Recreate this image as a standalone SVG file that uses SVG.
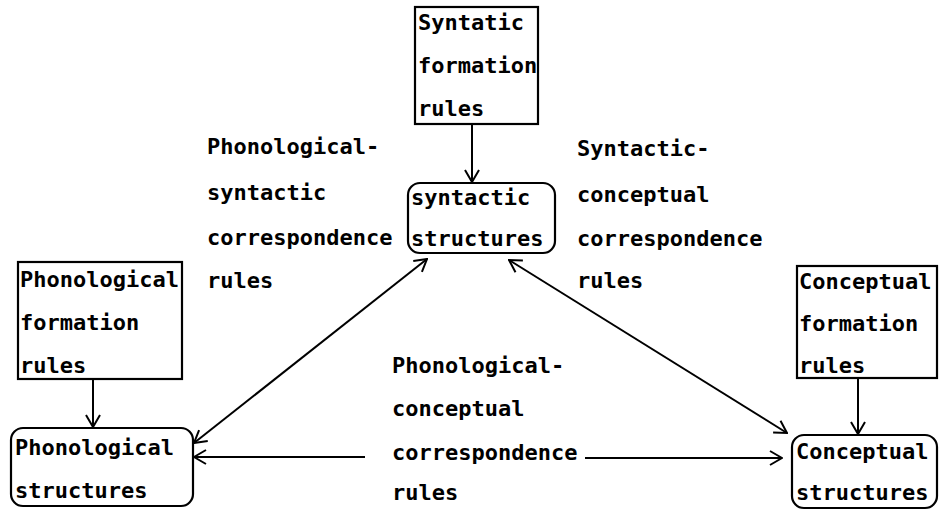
<svg xmlns="http://www.w3.org/2000/svg" width="939" height="512" viewBox="0 0 939 512">
<style>
text{font-family:"DejaVu Sans Mono","Liberation Mono",monospace;font-weight:bold;font-size:22px;fill:#000}
.box{fill:#fff;stroke:#000;stroke-width:2.2}
.ln{fill:none;stroke:#000;stroke-width:2}
</style>
<defs>
<marker id="ah" viewBox="0 0 14 16" refX="13" refY="8" markerWidth="14" markerHeight="16" markerUnits="userSpaceOnUse" orient="auto-start-reverse">
<path d="M1,1 L13,8 L1,15" fill="none" stroke="#000" stroke-width="2"/>
</marker>
</defs>
<rect width="939" height="512" fill="#fff"/>
<g id="connectors">
<line class="ln" x1="472" y1="124" x2="472" y2="182" marker-end="url(#ah)"/>
<line class="ln" x1="93" y1="379" x2="93" y2="427" marker-end="url(#ah)"/>
<line class="ln" x1="858" y1="378" x2="858" y2="434" marker-end="url(#ah)"/>
<line class="ln" x1="194" y1="443" x2="427" y2="259" marker-start="url(#ah)" marker-end="url(#ah)"/>
<line class="ln" x1="509" y1="260" x2="787" y2="433" marker-start="url(#ah)" marker-end="url(#ah)"/>
<line class="ln" x1="365" y1="457" x2="194" y2="457" marker-end="url(#ah)"/>
<line class="ln" x1="585" y1="458" x2="782" y2="458" marker-end="url(#ah)"/>
</g>
<g id="syntactic-formation">
<rect class="box" x="415" y="7" width="123" height="117"/>
<text x="418" y="30">Syntatic</text>
<text x="418" y="73">formation</text>
<text x="418" y="116">rules</text>
</g>
<g id="syntactic-structures">
<rect class="box" x="408" y="183" width="147" height="70" rx="12"/>
<text x="411" y="205">syntactic</text>
<text x="411" y="246">structures</text>
</g>
<g id="phonological-formation">
<rect class="box" x="18" y="262" width="164" height="117"/>
<text x="20" y="287">Phonological</text>
<text x="20" y="330">formation</text>
<text x="20" y="373">rules</text>
</g>
<g id="phonological-structures">
<rect class="box" x="11" y="428" width="182" height="78" rx="12"/>
<text x="15" y="455">Phonological</text>
<text x="15" y="498">structures</text>
</g>
<g id="conceptual-formation">
<rect class="box" x="797" y="266" width="140" height="112"/>
<text x="799" y="289">Conceptual</text>
<text x="799" y="331">formation</text>
<text x="799" y="373">rules</text>
</g>
<g id="conceptual-structures">
<rect class="box" x="792" y="435" width="145" height="73" rx="12"/>
<text x="796" y="459">Conceptual</text>
<text x="796" y="500">structures</text>
</g>
<g id="label-phon-syn">
<text x="207" y="154">Phonological-</text>
<text x="207" y="200">syntactic</text>
<text x="207" y="245">correspondence</text>
<text x="207" y="288">rules</text>
</g>
<g id="label-syn-conc">
<text x="577" y="156">Syntactic-</text>
<text x="577" y="202">conceptual</text>
<text x="577" y="246">correspondence</text>
<text x="577" y="288">rules</text>
</g>
<g id="label-phon-conc">
<text x="392" y="373">Phonological-</text>
<text x="392" y="416">conceptual</text>
<text x="392" y="460">correspondence</text>
<text x="392" y="500">rules</text>
</g>
</svg>
